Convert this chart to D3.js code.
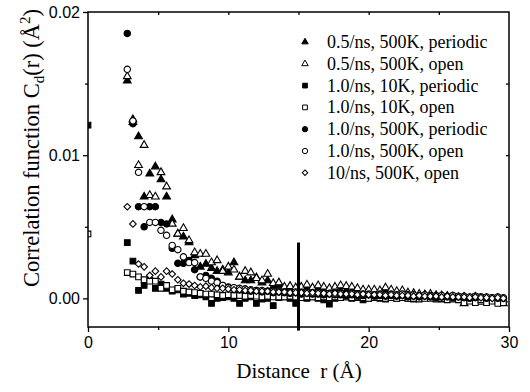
<!DOCTYPE html>
<html>
<head>
<meta charset="utf-8">
<script src="https://cdn.jsdelivr.net/npm/d3@7"></script>
<style>
  body { margin: 0; background: #fff; }
</style>
</head>
<body>
<div id="chart"></div>
<script>
// distance r (Å); r = 0 only exists for the 10K runs
const distances = [0, 2.8, 3.2, 3.6, 4.0, 4.4, 4.8, 5.2, 5.6,
  6.0, 6.4, 6.8, 7.2, 7.6, 8.0, 8.4, 8.8, 9.2, 9.6,
  10.0, 10.4, 10.8, 11.2, 11.6, 12.0, 12.4, 12.8, 13.2, 13.6,
  14.0, 14.4, 14.8, 15.2, 15.6, 16.0, 16.4, 16.8, 17.2, 17.6,
  18.0, 18.4, 18.8, 19.2, 19.6, 20.0, 20.4, 20.8, 21.2, 21.6,
  22.0, 22.4, 22.8, 23.2, 23.6, 24.0, 24.4, 24.8, 25.2, 25.6,
  26.0, 26.4, 26.8, 27.2, 27.6, 28.0, 28.4, 28.8, 29.2, 29.6];

// C_d(r), in units of 1e-3 Å^2
const tri05Periodic = [null, 15.2, 12.5, 11.3, 7.1, 8.7, 9.2, 8.3, 7.1,
  5.5, 4.5, 4.3, 3.9, 3.0, 2.2, 2.4, 2.1, 1.9, 2.0,
  1.8, 2.5, 1.5, 1.25, 1.25, 1.45, 1.1, 1.25, 0.8, 0.9,
  0.7, 0.8, 0.6, 0.75, 0.8, 0.65, 0.6, 0.7, 0.55, 0.6,
  0.5, 0.55, 0.5, 0.45, 0.4, 0.5, 0.4, 0.35, 0.45, 0.4,
  0.35, 0.3, 0.25, 0.3, 0.2, 0.25, 0.15, 0.2, 0.1, 0.15,
  0.1, 0.05, 0.1, 0.0, 0.05, -0.05, 0.0, -0.1, 0.0, -0.1];
const tri05Open = [null, 15.5, 12.3, 9.3, 10.7, 7.2, 7.1, 8.8, 7.8,
  5.2, 4.5, 4.9, 4.05, 3.2, 3.1, 3.1, 2.5, 2.65, 1.9,
  2.2, 2.0, 1.5, 1.9, 1.8, 1.4, 1.25, 1.7, 1.05, 1.1,
  0.8, 0.85, 0.75, 0.8, 0.95, 0.75, 0.9, 0.8, 0.7, 0.8,
  0.9, 0.85, 0.8, 0.7, 0.6, 0.6, 0.6, 0.55, 0.75, 0.6,
  0.5, 0.55, 0.4, 0.35, 0.3, 0.25, 0.3, 0.2, 0.2, 0.15,
  0.1, 0.0, -0.35, 0.0, 0.1, -0.25, 0.0, -0.1, 0.0, -0.35];
const sq10KPeriodic = [12.1, 3.9, 2.6, 0.55, 0.9, 1.25, 0.7, 1.0, 0.7,
  0.5, 0.6, 0.3, 0.35, 0.2, 0.25, 0.1, -0.35, 0.0, 0.05,
  0.1, 0.0, -0.35, 0.0, 0.1, -0.35, -0.05, 0.0, -0.5, 0.05,
  0.1, 0.0, -0.35, 0.05, 0.0, 0.1, 0.0, -0.1, -0.4, 0.0,
  0.05, 0.1, 0.0, 0.05, -0.1, 0.0, 0.05, 0.0, -0.05, 0.05,
  0.0, 0.05, 0.0, -0.05, 0.0, 0.05, 0.1, 0.0, -0.05, 0.0,
  0.05, 0.0, -0.1, 0.0, 0.1, 0.05, 0.0, -0.05, 0.0, -0.1];
const sq10KOpen = [4.5, 1.8, 1.7, 1.5, 1.3, 1.2, 1.2, 0.7, 0.9,
  0.6, 0.7, 0.5, 0.45, 0.4, 0.35, 0.3, 0.3, 0.25, 0.2,
  0.25, 0.2, 0.2, 0.15, 0.2, 0.15, 0.1, 0.15, 0.1, 0.1,
  0.1, 0.15, 0.1, 0.05, 0.1, 0.1, 0.05, 0.1, 0.05, 0.1,
  0.05, 0.1, 0.05, 0.1, 0.05, 0.0, 0.05, 0.05, 0.0, 0.05,
  0.0, 0.05, 0.0, 0.0, -0.05, 0.0, 0.0, -0.05, 0.0, -0.1,
  -0.05, -0.1, -0.3, -0.2, -0.3, -0.1, -0.3, -0.2, -0.35, -0.3];
const circ10Periodic = [null, 18.5, 12.2, 6.4, 5.0, 6.4, 6.4, 5.3, 5.2,
  3.5, 2.45, 2.45, 2.65, 2.0, 1.5, 1.6, 1.4, 1.2, 0.9,
  0.8, 0.7, 0.6, 0.65, 0.5, 0.55, 0.45, 0.5, 0.4, 0.45,
  0.4, 0.35, 0.4, 0.3, 0.35, 0.3, 0.3, 0.25, 0.3, 0.25,
  0.25, 0.2, 0.25, 0.2, 0.2, 0.25, 0.15, 0.2, 0.15, 0.2,
  0.15, 0.2, 0.1, 0.15, 0.1, 0.15, 0.1, 0.05, 0.1, 0.1,
  0.05, 0.1, 0.05, 0.0, 0.05, 0.1, 0.0, 0.05, 0.0, 0.0];
const circ10Open = [null, 16.0, 12.4, 8.8, 6.4, 5.3, 5.3, 4.75, 4.4,
  3.7, 3.4, 2.9, 2.5, 2.5, 1.5, 1.4, 1.2, 1.1, 0.9,
  0.75, 0.75, 0.7, 0.65, 0.6, 0.55, 0.55, 0.5, 0.5, 0.45,
  0.45, 0.4, 0.45, 0.4, 0.4, 0.35, 0.4, 0.35, 0.35, 0.3,
  0.35, 0.3, 0.35, 0.3, 0.3, 0.3, 0.25, 0.3, 0.25, 0.3,
  0.25, 0.3, 0.25, 0.25, 0.2, 0.25, 0.2, 0.2, 0.2, 0.15,
  0.2, 0.15, 0.15, 0.1, 0.15, 0.1, 0.1, 0.05, 0.1, 0.05];
const diam10Open = [null, 6.4, 5.2, 2.4, 2.2, 1.6, 1.9, 1.5, 1.9,
  1.7, 1.3, 1.05, 1.0, 0.9, 0.8, 0.85, 0.75, 0.7, 0.7,
  0.65, 0.6, 0.6, 0.55, 0.55, 0.5, 0.5, 0.5, 0.45, 0.45,
  0.45, 0.4, 0.4, 0.4, 0.35, 0.4, 0.35, 0.35, 0.3, 0.35,
  0.3, 0.3, 0.3, 0.25, 0.3, 0.25, 0.25, 0.25, 0.2, 0.25,
  0.2, 0.2, 0.2, 0.15, 0.2, 0.15, 0.15, 0.15, 0.1, 0.15,
  0.1, 0.1, 0.1, 0.05, 0.1, 0.05, 0.05, 0.0, 0.05, 0.0];

const legendLabels = ["0.5/ns, 500K, periodic", "0.5/ns, 500K, open",
  "1.0/ns, 10K, periodic", "1.0/ns, 10K, open",
  "1.0/ns, 500K, periodic", "1.0/ns, 500K, open", "10/ns, 500K, open"];
const xMajor = [0, 10, 20, 30], xMinor = [5, 15, 25];
const yMajor = [0, 0.01, 0.02], yMinor = [0.005, 0.015];
const cutoff = 15; // vertical marker at r = 15 Å

const series = [
  { values: tri05Periodic, shape: "tri", filled: true },
  { values: tri05Open, shape: "tri", filled: false },
  { values: sq10KPeriodic, shape: "sq", filled: true },
  { values: sq10KOpen, shape: "sq", filled: false },
  { values: circ10Periodic, shape: "circ", filled: true },
  { values: circ10Open, shape: "circ", filled: false },
  { values: diam10Open, shape: "diam", filled: false }
];
series.forEach((s, i) => s.label = legendLabels[i]);

const margin = { top: 12, right: 21, bottom: 65, left: 88 },
  width = 530 - margin.left - margin.right,
  height = 392 - margin.top - margin.bottom;

const x = d3.scaleLinear().domain([0, 30]).range([0, width]);
const y = d3.scaleLinear().domain([-0.002, 0.02]).range([height, 0]);

function symbolPath(shape, scale) {
  if (shape == "tri") return d3.symbol(d3.symbolTriangle, 26 * scale)();
  if (shape == "sq") return d3.symbol(d3.symbolSquare, 32 * scale)();
  if (shape == "circ") return d3.symbol(d3.symbolCircle, 32 * scale)();
  return d3.symbol(d3.symbolSquare, 22 * scale)();
}

const svg = d3.select("#chart").append("svg")
  .attr("width", 530).attr("height", 392)
  .style("font-family", "'Liberation Sans', Arial, sans-serif");

const g = svg.append("g").attr("transform", `translate(${margin.left},${margin.top})`);

g.append("clipPath").attr("id", "plotclip")
  .append("rect").attr("width", width).attr("height", height);

// markers
const marks = g.append("g").attr("clip-path", "url(#plotclip)");
series.forEach(s => {
  const pts = distances.map((r, i) => ({ r: r, c: s.values[i] })).filter(d => d.c !== null);
  marks.append("g").selectAll("path").data(pts).join("path")
    .attr("d", symbolPath(s.shape, 1))
    .attr("transform", d => `translate(${x(d.r)},${y(d.c / 1000)})` + (s.shape == "diam" ? " rotate(45)" : ""))
    .attr("fill", s.filled ? "#000" : "#fff")
    .attr("stroke", "#000").attr("stroke-width", 1.1);
});

// vertical line at the cutoff
g.append("line")
  .attr("x1", x(cutoff)).attr("x2", x(cutoff))
  .attr("y1", y(0.0039)).attr("y2", y(-0.00225))
  .attr("stroke", "#000").attr("stroke-width", 3);

// frame
g.append("rect").attr("width", width).attr("height", height)
  .attr("fill", "none").attr("stroke", "#000").attr("stroke-width", 1.5);

function styleAxis(sel) {
  sel.select(".domain").remove();
  sel.selectAll("line").attr("stroke", "#000").attr("stroke-width", 1.3);
  sel.selectAll("text").attr("fill", "#000").style("font-size", "16px");
}

g.append("g").attr("transform", `translate(0,${height})`)
  .call(d3.axisBottom(x).tickValues(xMajor).tickSize(5).tickPadding(5).tickFormat(d3.format("d")))
  .call(styleAxis);
g.append("g").attr("transform", `translate(0,${height})`)
  .call(d3.axisBottom(x).tickValues(xMinor).tickSize(3).tickFormat(""))
  .call(styleAxis);
g.append("g")
  .call(d3.axisLeft(y).tickValues(yMajor).tickSize(5).tickPadding(3).tickFormat(d3.format(".2f")))
  .call(styleAxis);
g.append("g")
  .call(d3.axisLeft(y).tickValues(yMinor).tickSize(3).tickFormat(""))
  .call(styleAxis);
g.append("g")
  .call(d3.axisTop(x).tickValues(xMinor.concat([10, 20])).tickSize(-3).tickFormat(""))
  .call(styleAxis);
g.append("g").attr("transform", `translate(${width},0)`)
  .call(d3.axisRight(y).tickValues(yMinor.concat([0.01])).tickSize(-3).tickFormat(""))
  .call(styleAxis);

// axis titles
const serif = "'Liberation Serif', 'Times New Roman', serif";
svg.append("text")
  .attr("x", 299).attr("y", 378)
  .attr("text-anchor", "middle")
  .style("font-family", serif).style("font-size", "21px")
  .style("white-space", "pre")
  .text("Distance  r (\u00C5)");

const yt = svg.append("text")
  .attr("transform", "translate(39,148) rotate(-90)")
  .attr("text-anchor", "middle")
  .style("font-family", serif).style("font-size", "22.5px");
yt.append("tspan").text("Correlation function C");
yt.append("tspan").attr("dy", 5).style("font-size", "15px").text("d");
yt.append("tspan").attr("dy", -5).text("(r) (\u00C5");
yt.append("tspan").attr("dy", -9).style("font-size", "15px").text("2");
yt.append("tspan").attr("dy", 9).text(")");

// legend
const legend = svg.append("g").attr("transform", "translate(305,42)");
series.forEach((s, i) => {
  const row = legend.append("g").attr("transform", `translate(0,${i * 21.8})`);
  row.append("path")
    .attr("d", symbolPath(s.shape, 0.7))
    .attr("transform", s.shape == "diam" ? "rotate(45)" : null)
    .attr("fill", s.filled ? "#000" : "#fff")
    .attr("stroke", "#000").attr("stroke-width", 1);
  row.append("text")
    .attr("x", 22).attr("y", 6)
    .style("font-family", serif).style("font-size", "18px")
    .text(s.label);
});
</script>
</body>
</html>
